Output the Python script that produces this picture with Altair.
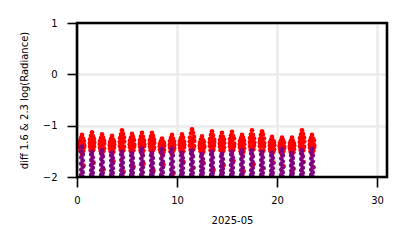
import altair as alt
import pandas as pd

DAYS = list(range(24))

# within-day time offsets (fraction of a day) of each sample
RED_T = [0.50, 0.40, 0.60, 0.30, 0.50, 0.70, 0.28, 0.50, 0.72, 0.30, 0.50, 0.70, 0.36, 0.64, 0.50, 0.66]
PUR_T = [0.50, 0.42, 0.58, 0.43, 0.57, 0.42, 0.58, 0.43, 0.57, 0.42, 0.58]

# diff 1.6 log(Radiance) per day (red)
RED = [
    [-1.18, -1.24, -1.25, -1.30, -1.31, -1.30, -1.37, -1.36, -1.38, -1.43, -1.44, -1.42, -1.50, -1.49, -1.56, -1.78],
    [-1.13, -1.20, -1.21, -1.27, -1.28, -1.26, -1.34, -1.35, -1.33, -1.41, -1.42, -1.40, -1.48, -1.47, -1.55, -1.72],
    [-1.17, -1.24, -1.23, -1.30, -1.31, -1.29, -1.36, -1.37, -1.35, -1.43, -1.42, -1.44, -1.49, -1.50, -1.56, -1.85],
    [-1.20, -1.26, -1.27, -1.32, -1.33, -1.31, -1.38, -1.39, -1.37, -1.44, -1.45, -1.43, -1.50, -1.51, -1.56, -1.70],
    [-1.09, -1.17, -1.16, -1.24, -1.25, -1.23, -1.32, -1.33, -1.31, -1.40, -1.39, -1.41, -1.47, -1.48, -1.55, -1.90],
    [-1.16, -1.23, -1.22, -1.29, -1.30, -1.28, -1.36, -1.35, -1.37, -1.42, -1.43, -1.41, -1.49, -1.48, -1.55, -1.80],
    [-1.14, -1.21, -1.22, -1.28, -1.27, -1.29, -1.35, -1.34, -1.36, -1.41, -1.42, -1.40, -1.48, -1.49, -1.55, -1.74],
    [-1.14, -1.21, -1.20, -1.28, -1.29, -1.27, -1.35, -1.36, -1.34, -1.41, -1.40, -1.42, -1.48, -1.47, -1.55, -1.88],
    [-1.25, -1.30, -1.31, -1.35, -1.36, -1.34, -1.40, -1.41, -1.39, -1.46, -1.45, -1.47, -1.51, -1.52, -1.56, -1.76],
    [-1.18, -1.24, -1.25, -1.30, -1.29, -1.31, -1.37, -1.36, -1.38, -1.43, -1.42, -1.44, -1.50, -1.49, -1.56, -1.92],
    [-1.17, -1.24, -1.23, -1.30, -1.29, -1.31, -1.36, -1.35, -1.37, -1.43, -1.44, -1.42, -1.49, -1.50, -1.56, -1.71],
    [-1.07, -1.15, -1.14, -1.23, -1.24, -1.22, -1.31, -1.32, -1.30, -1.39, -1.38, -1.40, -1.47, -1.46, -1.55, -1.82],
    [-1.21, -1.27, -1.28, -1.33, -1.34, -1.32, -1.39, -1.38, -1.40, -1.44, -1.45, -1.43, -1.50, -1.51, -1.56, -1.73],
    [-1.11, -1.18, -1.19, -1.26, -1.25, -1.27, -1.33, -1.34, -1.32, -1.40, -1.41, -1.39, -1.48, -1.47, -1.55, -1.86],
    [-1.14, -1.21, -1.22, -1.28, -1.29, -1.27, -1.35, -1.36, -1.34, -1.41, -1.40, -1.42, -1.48, -1.49, -1.55, -1.77],
    [-1.12, -1.19, -1.20, -1.26, -1.27, -1.25, -1.34, -1.33, -1.35, -1.41, -1.42, -1.40, -1.48, -1.47, -1.55, -1.69],
    [-1.18, -1.24, -1.23, -1.30, -1.31, -1.29, -1.37, -1.38, -1.36, -1.43, -1.42, -1.44, -1.50, -1.51, -1.56, -1.89],
    [-1.09, -1.17, -1.18, -1.24, -1.23, -1.25, -1.32, -1.31, -1.33, -1.40, -1.41, -1.39, -1.47, -1.46, -1.55, -1.75],
    [-1.11, -1.18, -1.17, -1.26, -1.27, -1.25, -1.33, -1.32, -1.34, -1.40, -1.39, -1.41, -1.48, -1.49, -1.55, -1.83],
    [-1.22, -1.28, -1.29, -1.33, -1.34, -1.32, -1.39, -1.40, -1.38, -1.45, -1.44, -1.46, -1.50, -1.51, -1.56, -1.72],
    [-1.23, -1.29, -1.28, -1.34, -1.35, -1.33, -1.40, -1.39, -1.41, -1.45, -1.46, -1.44, -1.51, -1.50, -1.56, -1.79],
    [-1.23, -1.29, -1.30, -1.34, -1.33, -1.35, -1.40, -1.41, -1.39, -1.45, -1.44, -1.46, -1.51, -1.52, -1.56, -1.84],
    [-1.09, -1.17, -1.16, -1.24, -1.25, -1.23, -1.32, -1.33, -1.31, -1.40, -1.39, -1.41, -1.47, -1.48, -1.55, -1.71],
    [-1.18, -1.24, -1.25, -1.30, -1.31, -1.29, -1.37, -1.36, -1.38, -1.43, -1.44, -1.42, -1.50, -1.49, -1.56, -1.81],
]

# diff 2.3 log(Radiance) per day (purple)
PURPLE = [
    [-1.41, -1.50, -1.56, -1.62, -1.68, -1.74, -1.80, -1.86, -1.91, -1.96, -2.00],
    [-1.51, -1.56, -1.62, -1.67, -1.72, -1.77, -1.82, -1.87, -1.92, -1.96, -2.00],
    [-1.48, -1.54, -1.60, -1.65, -1.71, -1.76, -1.82, -1.87, -1.92, -1.96, -2.00],
    [-1.53, -1.58, -1.63, -1.68, -1.73, -1.78, -1.83, -1.88, -1.92, -1.96, -2.00],
    [-1.51, -1.56, -1.62, -1.67, -1.72, -1.77, -1.82, -1.87, -1.92, -1.96, -2.00],
    [-1.53, -1.58, -1.63, -1.68, -1.73, -1.78, -1.83, -1.88, -1.92, -1.96, -2.00],
    [-1.45, -1.52, -1.58, -1.64, -1.70, -1.75, -1.81, -1.86, -1.91, -1.96, -2.00],
    [-1.53, -1.58, -1.63, -1.68, -1.73, -1.78, -1.83, -1.88, -1.92, -1.96, -2.00],
    [-1.45, -1.52, -1.58, -1.64, -1.70, -1.75, -1.81, -1.86, -1.91, -1.96, -2.00],
    [-1.45, -1.52, -1.58, -1.64, -1.70, -1.75, -1.81, -1.86, -1.91, -1.96, -2.00],
    [-1.53, -1.58, -1.63, -1.68, -1.73, -1.78, -1.83, -1.88, -1.92, -1.96, -2.00],
    [-1.48, -1.54, -1.60, -1.65, -1.71, -1.76, -1.82, -1.87, -1.92, -1.96, -2.00],
    [-1.55, -1.60, -1.65, -1.70, -1.74, -1.79, -1.84, -1.88, -1.92, -1.96, -2.00],
    [-1.51, -1.56, -1.62, -1.67, -1.72, -1.77, -1.82, -1.87, -1.92, -1.96, -2.00],
    [-1.55, -1.60, -1.65, -1.70, -1.74, -1.79, -1.84, -1.88, -1.92, -1.96, -2.00],
    [-1.51, -1.56, -1.62, -1.67, -1.72, -1.77, -1.82, -1.87, -1.92, -1.96, -2.00],
    [-1.48, -1.54, -1.60, -1.65, -1.71, -1.76, -1.82, -1.87, -1.92, -1.96, -2.00],
    [-1.48, -1.54, -1.60, -1.65, -1.71, -1.76, -1.82, -1.87, -1.92, -1.96, -2.00],
    [-1.51, -1.56, -1.62, -1.67, -1.72, -1.77, -1.82, -1.87, -1.92, -1.96, -2.00],
    [-1.53, -1.58, -1.63, -1.68, -1.73, -1.78, -1.83, -1.88, -1.92, -1.96, -2.00],
    [-1.45, -1.52, -1.58, -1.64, -1.70, -1.75, -1.81, -1.86, -1.91, -1.96, -2.00],
    [-1.53, -1.58, -1.63, -1.68, -1.73, -1.78, -1.83, -1.88, -1.92, -1.96, -2.00],
    [-1.48, -1.54, -1.60, -1.65, -1.71, -1.76, -1.82, -1.87, -1.92, -1.96, -2.00],
    [-1.45, -1.52, -1.58, -1.64, -1.70, -1.75, -1.81, -1.86, -1.91, -1.96, -2.00],
]

X_TICKS = [0, 10, 20, 30]
Y_TICKS = [-2, -1, 0, 1]

rows = []
for d, vals in zip(DAYS, RED):
    for t, v in zip(RED_T, vals):
        rows.append({"t": d + t, "v": v, "band": "red", "o": 0})
for d, vals in zip(DAYS, PURPLE):
    for t, v in zip(PUR_T, vals):
        rows.append({"t": d + t, "v": v, "band": "purple", "o": 1})
df = pd.DataFrame(rows)

FONT = "DejaVu Sans"
W, H = 310, 154
GRID = "#ebebeb"

points = alt.Chart(df).mark_circle(size=22, opacity=1, clip=True).encode(
    x=alt.X("t:Q", scale=alt.Scale(domain=[0, 31], nice=False),
            axis=alt.Axis(values=X_TICKS, title="2025-05", format="d",
                          grid=True, gridColor=GRID, gridWidth=2.5,
                          domain=False, tickColor="black", tickWidth=1.6, tickSize=10,
                          labelPadding=8, titlePadding=10, labelFlush=False)),
    y=alt.Y("v:Q", scale=alt.Scale(domain=[-2, 1], nice=False),
            axis=alt.Axis(values=Y_TICKS, title="diff 1.6 & 2.3  log(Radiance)",
                          grid=True, gridColor=GRID, gridWidth=2.5,
                          domain=False, tickColor="black", tickWidth=1.6, tickSize=10,
                          labelPadding=10, titlePadding=13, labelFlush=False)),
    color=alt.Color("band:N", scale=alt.Scale(domain=["red", "purple"], range=["#ff0000", "#800080"]),
                    legend=None),
    order=alt.Order("o:Q"),
)

frame = alt.Chart(pd.DataFrame({"a": [0]})).mark_rect(
    fillOpacity=0, stroke="black", strokeWidth=2.6
).encode(
    x=alt.value(0), x2=alt.value(W), y=alt.value(0), y2=alt.value(H)
)

chart = alt.layer(points, frame).properties(
    width=W, height=H,
    autosize=alt.AutoSizeParams(type="none"),
    padding={"left": 77, "top": 23, "right": 20, "bottom": 71},
).configure_view(
    stroke=None
).configure_axis(
    labelFont=FONT, titleFont=FONT, labelFontSize=10, titleFontSize=10,
    labelColor="black", titleColor="black", titleFontWeight="normal"
)

chart.save("out.html", embed_options={"renderer": "svg", "actions": False})
